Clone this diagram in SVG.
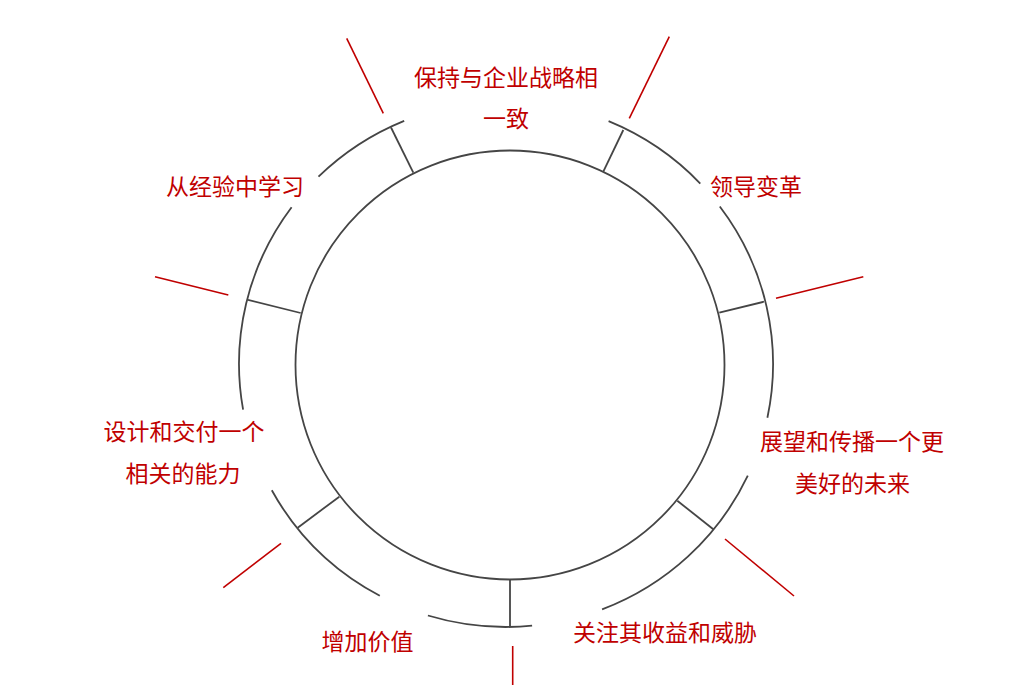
<svg xmlns="http://www.w3.org/2000/svg" width="1009" height="697" viewBox="0 0 1009 697">
<style>
.g{fill:none;stroke:#454545;stroke-width:1.8}
.r{fill:none;stroke:#c00000;stroke-width:1.6}
.t{font-family:"Noto Sans CJK SC","Noto Sans CJK JP",sans-serif;font-size:23px;fill:#c00000;text-anchor:middle}
</style>
<rect width="1009" height="697" fill="#ffffff"/>
<g id="ring">
<circle class="g" cx="510" cy="365" r="214.5"/>
<path class="g" d="M608.6 121.2 A267 263 0 0 1 700.3 183.6"/>
<path class="g" d="M719.8 206.5 A267 263 0 0 1 767.4 417.8"/>
<path class="g" d="M747.8 475.6 A267 263 0 0 1 602.1 609.4"/>
<path class="g" d="M532.1 625.7 A267 263 0 0 1 427.9 615.5"/>
<path class="g" d="M379.8 595.8 A267 263 0 0 1 271.8 490.3"/>
<path class="g" d="M243.1 409.7 A267 263 0 0 1 291.6 207.2"/>
<path class="g" d="M318.5 176.7 A267 263 0 0 1 404.2 120.9"/>
</g>
<g id="connectors">
<line class="g" x1="413.3" y1="172.7" x2="391" y2="127.5"/>
<line class="g" x1="603.3" y1="171.7" x2="623.3" y2="130"/>
<line class="g" x1="719.3" y1="312.7" x2="764" y2="301.7"/>
<line class="g" x1="677.3" y1="500.7" x2="713.3" y2="529.3"/>
<line class="g" x1="510" y1="579.5" x2="510" y2="626.5"/>
<line class="g" x1="339.3" y1="496.7" x2="297.7" y2="527.7"/>
<line class="g" x1="300.7" y1="313" x2="248" y2="299.8"/>
<line class="r" x1="346.7" y1="38.3" x2="383.3" y2="113.3"/>
<line class="r" x1="669.3" y1="36.7" x2="629.3" y2="118.3"/>
<line class="r" x1="776" y1="298.3" x2="863.3" y2="276.7"/>
<line class="r" x1="725" y1="539" x2="794" y2="596"/>
<line class="r" x1="512.7" y1="646" x2="512.7" y2="685"/>
<line class="r" x1="281" y1="543.3" x2="223.3" y2="587.7"/>
<line class="r" x1="228.3" y1="295" x2="155" y2="276.7"/>
</g>
<g id="label-align"><text class="t" x="506" y="85.5">保持与企业战略相</text><text class="t" x="506" y="127">一致</text></g>
<g id="label-lead"><text class="t" x="756" y="195">领导变革</text></g>
<g id="label-vision"><text class="t" x="852" y="450">展望和传播一个更</text><text class="t" x="852.5" y="491.5">美好的未来</text></g>
<g id="label-focus"><text class="t" x="665" y="640.5">关注其收益和威胁</text></g>
<g id="label-value"><text class="t" x="367.5" y="650">增加价值</text></g>
<g id="label-design"><text class="t" x="184" y="440">设计和交付一个</text><text class="t" x="183" y="481.5">相关的能力</text></g>
<g id="label-learn"><text class="t" x="235" y="194.5">从经验中学习</text></g>
</svg>
